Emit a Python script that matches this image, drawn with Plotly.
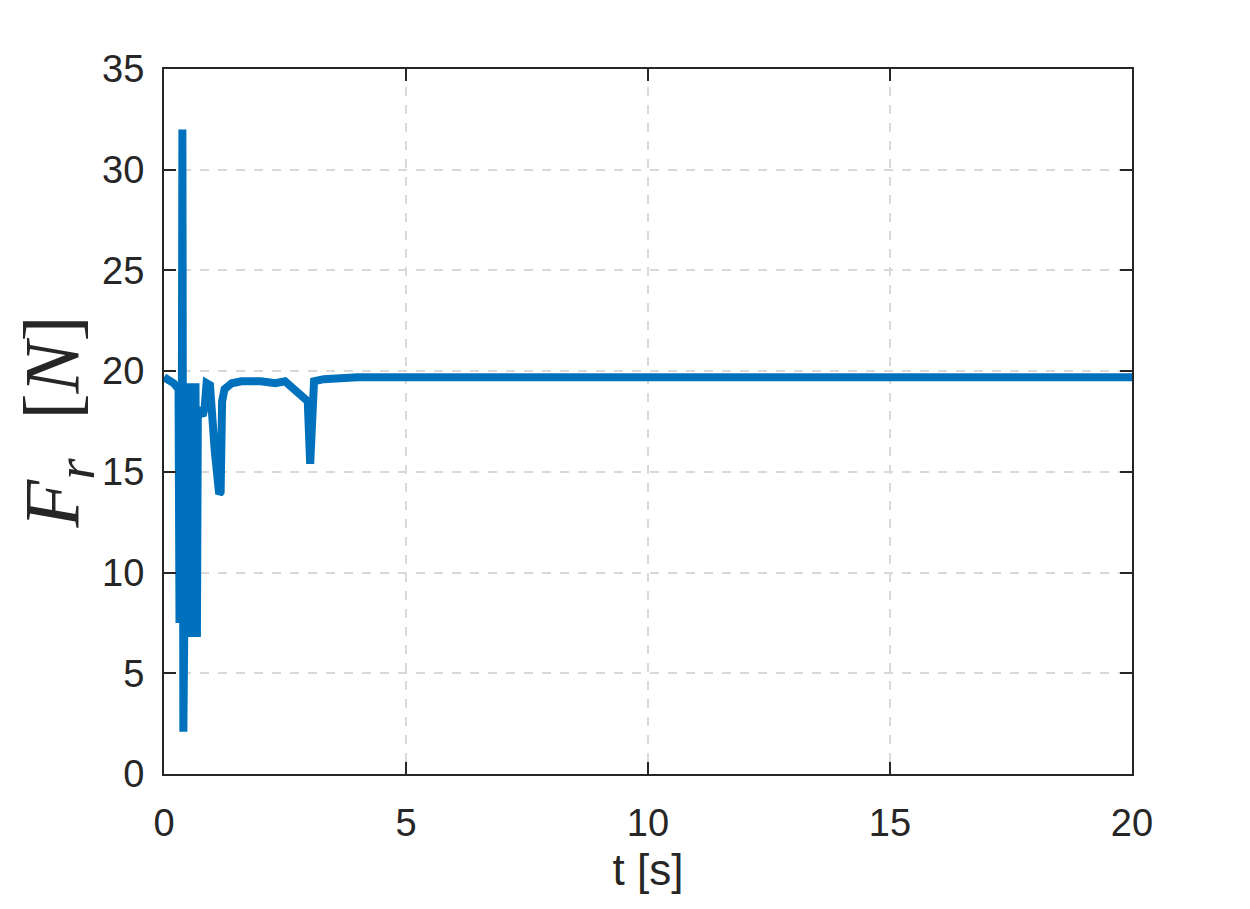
import plotly.graph_objects as go

# time samples [s] and force samples [N]
t = [0.00, 0.10, 0.20, 0.27, 0.28, 0.30, 0.32, 0.34, 0.36, 0.38, 0.40,
     0.42, 0.44, 0.46, 0.48, 0.50, 0.53, 0.56, 0.59, 0.62, 0.65, 0.68,
     0.70, 0.72, 0.80, 0.84, 0.88, 0.95, 1.05, 1.14, 1.17, 1.20, 1.25,
     1.40, 1.60, 2.00, 2.30, 2.50, 2.60, 2.75, 2.90, 2.97, 3.02, 3.06,
     3.10, 3.30, 3.60, 4.00, 6.00, 10.00, 15.00, 20.00]
F_r = [19.7, 19.6, 19.4, 19.2, 7.5, 19.3, 7.5, 19.3, 7.5, 32.0, 2.1,
       7.5, 19.4, 7.5, 19.4, 7.4, 19.4, 6.8, 19.4, 6.8, 19.4, 6.8,
       18.2, 18.0, 17.8, 18.2, 19.4, 19.3, 16.0, 13.9, 14.0, 18.5, 19.1,
       19.4, 19.5, 19.5, 19.4, 19.5, 19.3, 19.0, 18.6, 18.5, 15.4, 19.3,
       19.5, 19.6, 19.65, 19.7, 19.7, 19.7, 19.7, 19.7]

x_ticks = [0, 5, 10, 15, 20]
y_ticks = [0, 5, 10, 15, 20, 25, 30, 35]

AXIS_COLOR = "#262626"
GRID_COLOR = "#d9d9d9"

fig = go.Figure()
fig.add_trace(go.Scatter(
    x=t, y=F_r, mode="lines",
    line=dict(color="#0072BD", width=8),
    showlegend=False,
))

axis_style = dict(
    showline=True, linecolor=AXIS_COLOR, linewidth=2, mirror="ticks",
    ticks="inside", ticklen=12, tickwidth=2, tickcolor=AXIS_COLOR,
    showgrid=True, gridcolor=GRID_COLOR, griddash="dash", gridwidth=2,
    zeroline=False,
    tickfont=dict(family="Liberation Sans, Arial", size=38, color=AXIS_COLOR),
)

fig.update_xaxes(
    range=[0, 20], tickvals=x_ticks, ticklabelstandoff=14,
    title=dict(text="t [s]", standoff=12,
               font=dict(family="Liberation Sans, Arial", size=44, color=AXIS_COLOR)),
    **axis_style,
)
fig.update_yaxes(
    range=[0, 35], tickvals=y_ticks, ticklabelstandoff=10,
    title=dict(text="<i>F</i><sub><i>r</i></sub>  [<i>N</i>]", standoff=24,
               font=dict(family="Liberation Serif, Times New Roman", size=78, color=AXIS_COLOR)),
    **axis_style,
)

fig.update_layout(
    width=1250, height=909,
    margin=dict(l=156, r=126, t=61, b=143),
    paper_bgcolor="white", plot_bgcolor="white",
)

fig.write_html("out.html")
